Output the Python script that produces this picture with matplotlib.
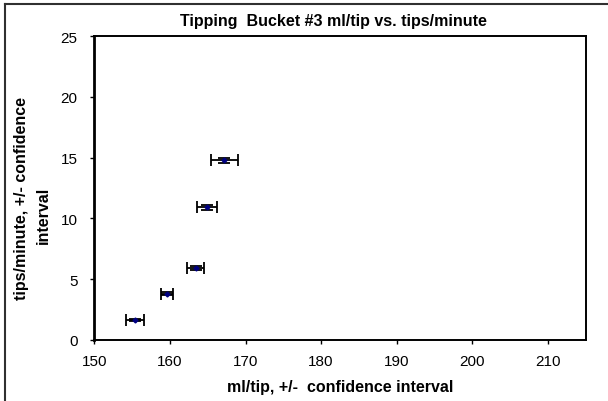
import matplotlib
matplotlib.use('Agg')
import matplotlib.pyplot as plt
from matplotlib.lines import Line2D

plt.rcParams['font.family'] = ['Liberation Sans', 'DejaVu Sans']

# calibration runs for bucket #3
ml_per_tip = [155.4, 159.6, 163.4, 164.9, 167.2]
ml_ci = [1.2, 0.75, 1.1, 1.3, 1.8]
tips_per_min = [1.6, 3.8, 5.9, 10.9, 14.8]
tips_ci = [0.1, 0.15, 0.15, 0.2, 0.2]

xticks = [150, 160, 170, 180, 190, 200, 210]
yticks = [0, 5, 10, 15, 20, 25]

W, H = 608, 402
fig = plt.figure(figsize=(W / 100, H / 100), dpi=100)
ax = fig.add_axes([94.3 / W, 61.3 / H, 491.4 / W, 303.4 / H])

ax.errorbar(ml_per_tip, tips_per_min, xerr=ml_ci, yerr=tips_ci,
            fmt='D', color='#000080', markersize=2.5,
            ecolor='black', elinewidth=1.3, capsize=4, capthick=1.3)

ax.set_xlim(150, 215)
ax.set_ylim(0, 25)
ax.set_xticks(xticks)
ax.set_yticks(yticks)
ax.tick_params(direction='out', length=3, width=1, labelsize=11)
ax.tick_params(axis='x', pad=7)
ax.tick_params(axis='y', pad=9)
for s in ax.spines.values():
    s.set_linewidth(1.4)
    s.set_color('black')
ax.spines['left'].set_linewidth(2)

fig.text(333 / W, 1 - 26 / H, 'Tipping  Bucket #3 ml/tip vs. tips/minute',
         ha='center', va='baseline', fontsize=11.5, fontweight='bold')
fig.text(340 / W, 1 - 392 / H, 'ml/tip, +/-  confidence interval',
         ha='center', va='baseline', fontsize=11.5, fontweight='bold')
fig.text(22 / W, 1 - 199 / H, 'tips/minute, +/- confidence',
         ha='center', va='center', rotation=90, fontsize=11.5, fontweight='bold')
fig.text(43 / W, 1 - 215 / H, 'interval',
         ha='center', va='center', rotation=90, fontsize=11.5, fontweight='bold')

# outer chart border (only top and left edges fall inside the image)
fig.add_artist(Line2D([5 / W, 5 / W], [0, 1 - 5 / H], color='#303030', lw=1.5))
fig.add_artist(Line2D([5 / W, 1], [1 - 5 / H, 1 - 5 / H], color='#303030', lw=1.5))

fig.savefig('out.png', dpi=100)
